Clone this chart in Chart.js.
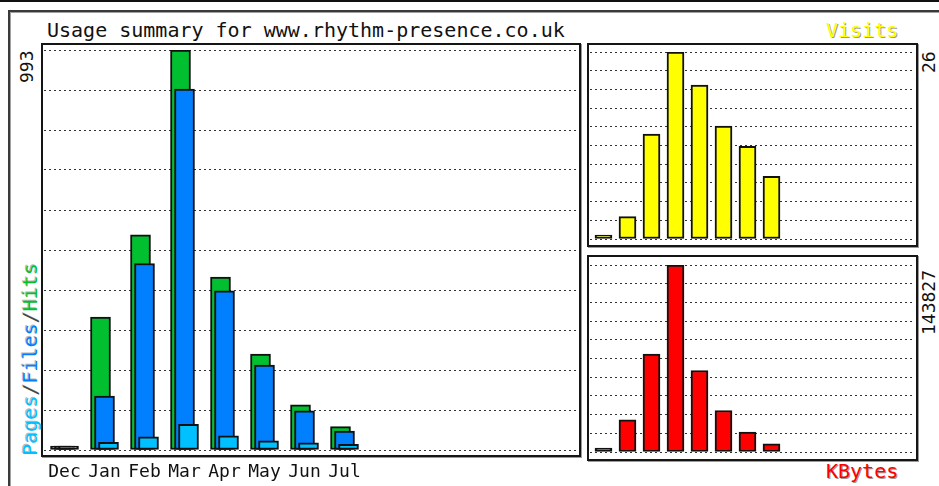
<!DOCTYPE html>
<html><head><meta charset="utf-8">
<script src="https://cdn.jsdelivr.net/npm/chart.js@4"></script>
<style>
html,body{margin:0;padding:0;background:#fff;width:939px;height:486px;overflow:hidden;position:relative;}
.abs{position:absolute;}
.box{position:absolute;border:2px solid #151515;box-shadow:1px 1px 0 0 #9a9a9a;box-sizing:border-box;}
.mono{font-family:"DejaVu Sans Mono",monospace;white-space:nowrap;}
.up{transform-origin:0 0;transform:rotate(-90deg);}
canvas{position:absolute;}
</style></head><body>
<div class="abs" style="left:0;top:0;width:939px;height:2px;background:#111"></div>
<div class="abs" style="left:8px;top:10px;width:1000px;height:1000px;border-top:2px solid #3a3a3a;border-left:2px solid #3a3a3a;box-shadow:inset 1px 1px 0 #a0a0a0"></div>

<div class="box" style="left:41px;top:43px;width:540px;height:414px"></div>
<div class="box" style="left:587px;top:43px;width:331px;height:204px"></div>
<div class="box" style="left:587px;top:255px;width:331px;height:206px"></div>

<div id="title" class="abs mono" style="left:47px;top:20px;font-size:20px;line-height:20px;color:#111"></div>
<div id="visLbl" class="abs mono" style="left:826px;top:20px;font-size:20px;line-height:20px;color:#ffff00;text-shadow:1px 1px 0 #9a9a9a"></div>
<div id="kbLbl" class="abs mono" style="left:826px;top:461px;font-size:20px;line-height:20px;color:#ff0000;text-shadow:1px 1px 0 #9a9a9a"></div>
<div id="pfh" class="abs mono up" style="left:20px;top:456px;font-size:20px;line-height:20px"></div>
<div id="maxMain" class="abs mono up" style="left:18px;top:83px;font-size:18px;line-height:18px;color:#111"></div>
<div id="maxVis" class="abs mono up" style="left:920px;top:73px;font-size:18px;line-height:18px;color:#111"></div>
<div id="maxKb" class="abs mono up" style="left:920px;top:335px;font-size:18px;line-height:18px;color:#111"></div>

<canvas id="main" width="585" height="486" style="left:0;top:0;width:585px;height:486px"></canvas>
<canvas id="vis" width="330" height="204" style="left:587px;top:43px;width:330px;height:204px"></canvas>
<canvas id="kb" width="330" height="205" style="left:587px;top:255px;width:330px;height:205px"></canvas>

<script>
// ---- data ----
const months = ['Dec','Jan','Feb','Mar','Apr','May','Jun','Jul'];
const hits   = [0, 330, 534, 993, 429, 238, 112, 58];
const files  = [0, 134, 463, 896, 395, 211, 97, 47];
const pages  = [0, 19, 33, 64, 35, 23, 18, 14];
const visits = [0, 3.1, 14.6, 26, 21.4, 15.7, 12.9, 8.7];
const kbytes = [0, 24800, 75250, 143827, 62660, 31950, 15360, 6370];
const axisMax = {main: 993, visits: 26, kbytes: 143827};
const titleText = 'Usage summary for www.rhythm-presence.co.uk';
const legendMain = [['Pages','#00c0ff'],['/','#444'],['Files','#0080ff'],['/','#444'],['Hits','#00c030']];
const legendVisits = 'Visits';
const legendKbytes = 'KBytes';

// ---- text ----
document.getElementById('title').textContent = titleText;
document.getElementById('visLbl').textContent = legendVisits;
document.getElementById('kbLbl').textContent = legendKbytes;
document.getElementById('maxMain').textContent = String(axisMax.main);
document.getElementById('maxVis').textContent = String(axisMax.visits);
document.getElementById('maxKb').textContent = String(axisMax.kbytes);
const pfh = document.getElementById('pfh');
legendMain.forEach(([t,c])=>{const s=document.createElement('span');s.textContent=t;s.style.color=c;s.style.textShadow='1px -1px 0 #bbb';pfh.appendChild(s);});

const pts = arr => arr.map((v,i)=>({x:i,y:v}));
const GRID = '#333';
const common = {
  responsive:false, animation:false, events:[],
  plugins:{legend:{display:false}, tooltip:{enabled:false}},
};
const hiddenX = (min,max)=>({type:'linear',min,max,offset:false,display:false});
const yAxis = max => ({min:0,max,ticks:{display:false,count:11},grid:{color:GRID,lineWidth:1,drawTicks:false},border:{display:false,dash:[2,3]}});

// main chart: 40 px per month, chart area x 44..578
const MU = 534/40;
new Chart(document.getElementById('main'), {
  type:'bar',
  data:{datasets:[
    {data:pts(hits),  backgroundColor:'#00c030', xAxisID:'xh', order:3},
    {data:pts(files), backgroundColor:'#0080ff', xAxisID:'xf', order:2},
    {data:pts(pages), backgroundColor:'#00c0ff', xAxisID:'xp', order:1},
  ]},
  options:Object.assign({}, common, {
    layout:{padding:{left:44,right:7,top:50,bottom:0}},
    datasets:{bar:{barThickness:20,borderWidth:2,borderColor:'#111',borderSkipped:false,minBarLength:4,grouped:false}},
    scales:{
      y: yAxis(axisMax.main),
      xh: hiddenX(-0.4125, -0.4125+MU),
      xf: {type:'linear',min:-0.5125,max:-0.5125+MU,offset:false,position:'bottom',
           grid:{display:false,offset:false}, border:{display:false},
           afterBuildTicks:s=>{s.ticks = months.map((m,i)=>({value:i}));},
           afterFit:s=>{s.height = 36;},
           ticks:{autoSkip:false,maxRotation:0,minRotation:0,padding:4,color:'#111',
                  font:{family:'DejaVu Sans Mono',size:18},
                  callback:v=>months[Math.round(v)] ?? ''}},
      xp: hiddenX(-0.6125, -0.6125+MU),
    }
  })
});

// small charts: 24 px per month, chart area width 324
const SU = 324/24;
function small(id, values, color, max, padTop, padBottom){
  new Chart(document.getElementById(id), {
    type:'bar',
    data:{datasets:[{data:pts(values), backgroundColor:color, xAxisID:'x'}]},
    options:Object.assign({}, common, {
      layout:{padding:{left:3,right:3,top:padTop,bottom:padBottom}},
      datasets:{bar:{barThickness:17,borderWidth:2,borderColor:'#111',borderSkipped:false,minBarLength:4}},
      scales:{ y: yAxis(max), x: hiddenX(-0.5625, -0.5625+SU) }
    })
  });
}
small('vis', visits, '#ffff00', axisMax.visits, 9, 8);
small('kb', kbytes, '#ff0000', axisMax.kbytes, 10, 8);
</script>
</body></html>
